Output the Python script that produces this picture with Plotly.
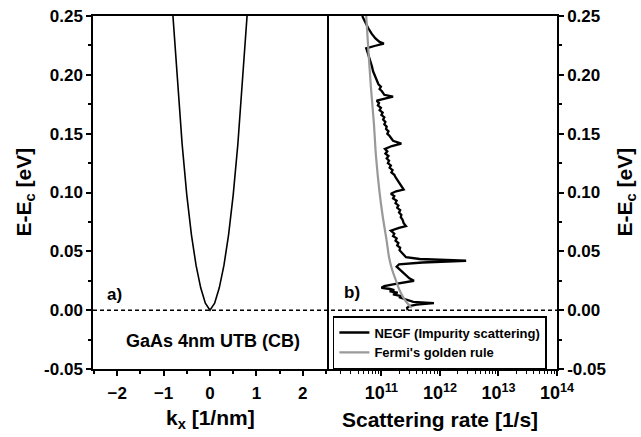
import plotly.graph_objects as go

# ---------------- data ----------------
# panel a) : conduction band dispersion
k_vals = [-0.80, -0.70, -0.60, -0.50, -0.40, -0.30, -0.20, -0.10, -0.05, 0.0,
          0.05, 0.10, 0.20, 0.30, 0.40, 0.50, 0.60, 0.70, 0.80]
band_E = [0.251, 0.192, 0.141, 0.098, 0.064, 0.038, 0.019, 0.006, 0.003, 0.000,
          0.003, 0.006, 0.019, 0.038, 0.064, 0.098, 0.141, 0.192, 0.251]

# panel b) : NEGF impurity scattering rate
negf_E = [0.250, 0.245, 0.240, 0.235, 0.231, 0.228, 0.2265, 0.2245, 0.2225, 0.219,
          0.215, 0.211, 0.207, 0.203, 0.199, 0.195, 0.192, 0.190, 0.188, 0.186,
          0.183, 0.1815, 0.1795, 0.178, 0.176, 0.174, 0.172, 0.170, 0.168, 0.166,
          0.164, 0.162, 0.160, 0.158, 0.156, 0.154, 0.152, 0.150, 0.148, 0.146,
          0.144, 0.1415, 0.1395, 0.137, 0.135, 0.133, 0.131, 0.129, 0.127, 0.125,
          0.123, 0.121, 0.119, 0.117, 0.115, 0.113, 0.111, 0.108, 0.105, 0.1025,
          0.101, 0.099, 0.097, 0.095, 0.093, 0.091, 0.089, 0.087, 0.085, 0.083,
          0.081, 0.079, 0.077, 0.074, 0.0715, 0.070, 0.0675, 0.065, 0.063, 0.061,
          0.059, 0.057, 0.055, 0.053, 0.051, 0.049, 0.047, 0.045, 0.0435, 0.042,
          0.0405, 0.039, 0.037, 0.035, 0.033, 0.031, 0.029, 0.027, 0.025, 0.0235,
          0.022, 0.0205, 0.019, 0.018, 0.017, 0.016, 0.015, 0.0135, 0.012, 0.011,
          0.0095, 0.008, 0.007, 0.006, 0.0048, 0.0035, 0.002, 0.000]
negf_rate = [4.7e10, 5.2e10, 5.9e10, 6.8e10, 7.9e10, 9.3e10, 1.1e11, 7.6e10, 5.5e10, 5.8e10,
             6.2e10, 6.5e10, 6.9e10, 7.2e10, 7.8e10, 8.5e10, 8.9e10, 9.8e10, 9.3e10, 1.02e11,
             1.12e11, 1.58e11, 1.05e11, 8.3e10, 9.1e10, 8.7e10, 9.8e10, 9.3e10, 1.05e11, 1.0e11,
             1.12e11, 1.07e11, 1.17e11, 1.12e11, 1.23e11, 1.2e11, 1.32e11, 1.26e11, 1.38e11, 1.48e11,
             1.58e11, 2.19e11, 1.51e11, 1.15e11, 1.26e11, 1.17e11, 1.32e11, 1.23e11, 1.35e11, 1.29e11,
             1.45e11, 1.38e11, 1.55e11, 1.48e11, 1.66e11, 1.74e11, 1.86e11, 2.0e11, 2.19e11, 2.4e11,
             1.78e11, 1.45e11, 1.66e11, 1.58e11, 1.82e11, 1.74e11, 1.95e11, 1.86e11, 2.09e11, 2.0e11,
             2.19e11, 2.14e11, 2.29e11, 2.4e11, 2.63e11, 2.0e11, 1.45e11, 1.66e11, 1.58e11, 1.82e11,
             1.74e11, 1.95e11, 1.86e11, 2.09e11, 2.04e11, 2.24e11, 2.4e11, 2.63e11, 4.5e11, 2.8e12,
             5.0e11, 2.0e11, 1.82e11, 2.0e11, 2.19e11, 2.4e11, 2.63e11, 3.0e11, 3.6e11, 2.24e11,
             1.58e11, 1.12e11, 1.0e11, 1.41e11, 1.66e11, 1.38e11, 1.9e11, 1.58e11, 2.19e11, 2.0e11,
             2.5e11, 2.9e11, 3.5e11, 7.9e11, 4.0e11, 3.0e11, 2.75e11, 2.8e11]

# panel b) : Fermi's golden rule
fgr_E = [0.25, 0.22, 0.19, 0.16, 0.13, 0.10, 0.08, 0.06, 0.045, 0.035,
         0.025, 0.018, 0.012, 0.008, 0.004, 0.002]
fgr_rate = [5.5e10, 6.0e10, 6.6e10, 7.4e10, 8.1e10, 9.3e10, 1.05e11, 1.22e11, 1.35e11, 1.51e11,
            1.78e11, 2.0e11, 2.29e11, 2.57e11, 3.0e11, 3.3e11]

E_ref = 0.0  # conduction band edge (dashed line)

y_ticks = [-0.05, 0.00, 0.05, 0.10, 0.15, 0.20, 0.25]
y_ticktext = ["-0.05", "0.00", "0.05", "0.10", "0.15", "0.20", "0.25"]
k_ticks = [-2, -1, 0, 1, 2]
rate_ticks = [1e11, 1e12, 1e13, 1e14]
rate_ticktext = ["10<sup>11</sup>", "10<sup>12</sup>", "10<sup>13</sup>", "10<sup>14</sup>"]
rate_minor = [m * 10 ** e for e in range(10, 14) for m in range(2, 10)]

# ---------------- figure ----------------
FONT = "Liberation Sans, Arial, sans-serif"
fig = go.Figure()

fig.add_trace(go.Scatter(x=k_vals, y=band_E, mode="lines",
                         line=dict(color="black", width=1.6),
                         xaxis="x", yaxis="y", showlegend=False))

fig.add_trace(go.Scatter(x=negf_rate, y=negf_E, mode="lines",
                         line=dict(color="black", width=2.3),
                         name="NEGF (Impurity scattering)",
                         xaxis="x2", yaxis="y2"))
fig.add_trace(go.Scatter(x=fgr_rate, y=fgr_E, mode="lines",
                         line=dict(color="#999999", width=2.2, shape="spline"),
                         name="Fermi's golden rule",
                         xaxis="x2", yaxis="y2"))

split = 0.5043
tickfont = dict(family=FONT, size=17, color="black", weight="bold")
axis_common = dict(showgrid=False, zeroline=False, showline=True, linecolor="black",
                   linewidth=1.5, ticks="outside", tickcolor="black", tickwidth=1.5,
                   ticklen=5, automargin=False)

fig.update_layout(
    width=641, height=437,
    margin=dict(l=93, r=84, t=16, b=68, autoexpand=False),
    paper_bgcolor="white", plot_bgcolor="white",
    font=dict(family=FONT, color="black"),
    xaxis=dict(domain=[0, split], range=[-2.52, 2.52], tickvals=k_ticks,
               anchor="y", mirror=True, ticklabelstandoff=3, tickfont=tickfont,
               minor=dict(ticks="outside", ticklen=3, tickcolor="black", tickwidth=1.5,
                          dtick=0.5, tick0=0.5, showgrid=False),
               **axis_common),
    yaxis=dict(range=[-0.05, 0.25], tickvals=y_ticks, ticktext=y_ticktext,
               anchor="x", mirror=True, tickfont=tickfont,
               minor=dict(ticks="outside", ticklen=3, tickcolor="black", tickwidth=1.5,
                          dtick=0.025, tick0=0.025, showgrid=False),
               **axis_common),
    xaxis2=dict(domain=[split, 1], type="log", range=[10.07, 14], tickvals=rate_ticks,
                ticktext=rate_ticktext, anchor="y2", mirror=True, ticklabelstandoff=2,
                tickfont=dict(family=FONT, size=18, color="black", weight="bold"),
                minor=dict(ticks="outside", ticklen=3, tickcolor="black", tickwidth=1.2,
                           tickvals=rate_minor, showgrid=False),
                **axis_common),
    yaxis2=dict(range=[-0.05, 0.25], tickvals=y_ticks, ticktext=y_ticktext,
                anchor="x2", side="right", mirror=False, tickfont=tickfont,
                minor=dict(ticks="outside", ticklen=3, tickcolor="black", tickwidth=1.5,
                           dtick=0.025, tick0=0.025, showgrid=False),
                **axis_common),
    legend=dict(x=0.517, y=0.15, xanchor="left", yanchor="top",
                bgcolor="white", bordercolor="black", borderwidth=1.5,
                font=dict(family=FONT, size=13, color="black", weight="bold"),
                tracegroupgap=0),
)

# dashed band-edge line spanning both panels
fig.add_shape(type="line", xref="paper", x0=0, x1=1, yref="y", y0=E_ref, y1=E_ref,
              line=dict(color="black", width=1.5, dash="4px,3px"))

bold = dict(family=FONT, color="black", weight="bold")
fig.add_annotation(text="a)", xref="x", yref="y", x=-2.27, y=0.0136,
                   xanchor="left", yanchor="middle", showarrow=False,
                   font=dict(size=17, **bold))
fig.add_annotation(text="b)", xref="x2", yref="y2", x=10.32, y=0.0153,
                   xanchor="left", yanchor="middle", showarrow=False,
                   font=dict(size=17, **bold))
fig.add_annotation(text="GaAs 4nm UTB (CB)", xref="x", yref="y", x=0.065, y=-0.0263,
                   xanchor="center", yanchor="middle", showarrow=False,
                   font=dict(size=18, **bold))

# axis titles
title_font = dict(size=21, **bold)
fig.add_annotation(text="E-E<sub>c</sub> [eV]", xref="paper", yref="paper", x=0, y=0.5,
                   xanchor="center", yanchor="middle",
                   xshift=-69, textangle=-90, showarrow=False, font=title_font)
fig.add_annotation(text="E-E<sub>c</sub> [eV]", xref="paper", yref="paper", x=1, y=0.5,
                   xanchor="center", yanchor="middle",
                   xshift=68, textangle=-90, showarrow=False, font=title_font)
fig.add_annotation(text="k<sub>x</sub> [1/nm]", xref="x", yref="paper", x=0, y=0,
                   xanchor="center", yanchor="middle",
                   yshift=-50, showarrow=False, font=title_font)
fig.add_annotation(text="Scattering rate [1/s]", xref="x2", yref="paper", x=12.0, y=0,
                   xanchor="center", yanchor="middle",
                   yshift=-50, showarrow=False, font=title_font)

fig.write_html("out.html", config={"displayModeBar": False},
               post_script="document.body.style.margin='0';")
